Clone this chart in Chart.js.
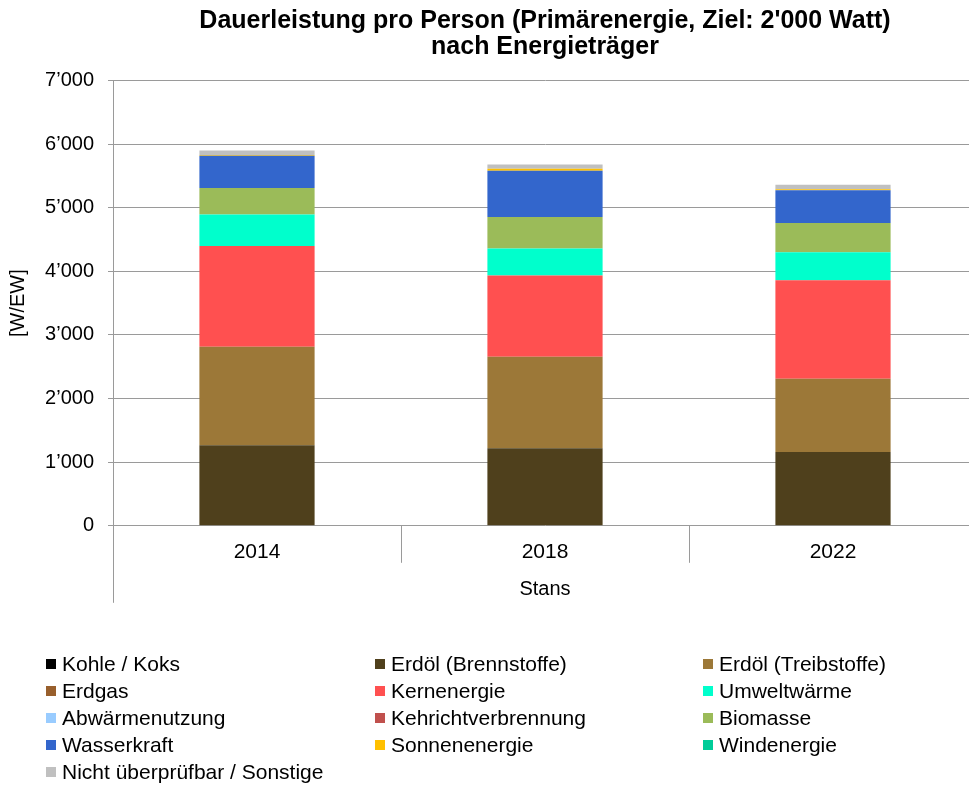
<!DOCTYPE html>
<html>
<head>
<meta charset="utf-8">
<script src="https://cdn.jsdelivr.net/npm/chart.js@4"></script>
<style>
  html, body { margin: 0; padding: 0; background: #fff; overflow: hidden; }
  canvas { display: block; }
</style>
</head>
<body>
<canvas id="energyChart" width="977" height="785"></canvas>
<script>
// Werte [W/EW] pro Jahr
var years = ['2014', '2018', '2022'];
var kohle = [0, 0, 0];
var erdoelBrenn = [1267, 1220, 1161];
var erdoelTreib = [1547, 1437, 1151];
var erdgas = [0, 0, 0];
var kernenergie = [1586, 1278, 1549];
var umweltwaerme = [493, 424, 440];
var abwaerme = [0, 0, 0];
var kehricht = [0, 0, 0];
var biomasse = [417, 496, 460];
var wasserkraft = [508, 728, 513];
var sonnenenergie = [10, 30, 16];
var windenergie = [0, 0, 0];
var sonstige = [70, 68, 73];

var yTicks = [0, 1000, 2000, 3000, 4000, 5000, 6000, 7000];

var fontName = '"Liberation Sans", Arial, sans-serif';
var gridColor = '#9a9a9a';

function ds(label, values, color) {
    return { label: label, data: values, backgroundColor: color, borderWidth: 0 };
}

var datasets = [
    ds('Kohle / Koks', kohle, '#000000'),
    ds('Erdöl (Brennstoffe)', erdoelBrenn, '#4f401c'),
    ds('Erdöl (Treibstoffe)', erdoelTreib, '#9c7838'),
    ds('Erdgas', erdgas, '#985f2c'),
    ds('Kernenergie', kernenergie, '#ff5050'),
    ds('Umweltwärme', umweltwaerme, '#00ffcc'),
    ds('Abwärmenutzung', abwaerme, '#99ccff'),
    ds('Kehrichtverbrennung', kehricht, '#c0504d'),
    ds('Biomasse', biomasse, '#9bbb59'),
    ds('Wasserkraft', wasserkraft, '#3366cc'),
    ds('Sonnenenergie', sonnenenergie, '#ffc000'),
    ds('Windenergie', windenergie, '#00cc99'),
    ds('Nicht überprüfbar / Sonstige', sonstige, '#c0c0c0')
];

// Trennlinien der Kategorieachse + Legende in drei Spalten
var extras = {
    id: 'extras',
    afterDraw: function (chart) {
        var ctx = chart.ctx;
        var area = chart.chartArea;
        var xs = chart.scales.x;
        ctx.save();
        ctx.strokeStyle = gridColor;
        ctx.lineWidth = 1;
        ctx.beginPath();
        ctx.moveTo(Math.round(area.left) + 0.5, area.bottom);
        ctx.lineTo(Math.round(area.left) + 0.5, area.bottom + 77);
        for (var i = 0; i < years.length - 1; i++) {
            var xb = Math.round((xs.getPixelForValue(i) + xs.getPixelForValue(i + 1)) / 2) + 0.5;
            ctx.moveTo(xb, area.bottom);
            ctx.lineTo(xb, area.bottom + 37);
        }
        ctx.stroke();

        var cols = [46, 375, 703];
        ctx.font = '21px ' + fontName;
        ctx.textBaseline = 'middle';
        chart.data.datasets.forEach(function (d, idx) {
            var x = cols[idx % 3];
            var y = 664 + Math.floor(idx / 3) * 27;
            ctx.fillStyle = d.backgroundColor;
            ctx.fillRect(x, y - 5, 10, 10);
            ctx.fillStyle = '#000';
            ctx.fillText(d.label, x + 16, y + 1);
        });
        ctx.restore();
    }
};

var ctx = document.getElementById('energyChart').getContext('2d');
var myChart = new Chart(ctx, {
    type: 'bar',
    data: { labels: years, datasets: datasets },
    options: {
        responsive: false,
        animation: false,
        devicePixelRatio: 1,
        layout: { padding: { left: 0, right: 0, top: 0, bottom: 184 } },
        datasets: { bar: { barPercentage: 0.4, categoryPercentage: 1 } },
        plugins: {
            legend: { display: false },
            tooltip: { enabled: false },
            title: {
                display: true,
                fullSize: false,
                text: ['Dauerleistung pro Person (Primärenergie, Ziel: 2\'000 Watt)', 'nach Energieträger'],
                color: '#000',
                font: { family: fontName, size: 25, weight: 'bold', lineHeight: 1.05 },
                padding: { top: 8, bottom: 20 }
            }
        },
        scales: {
            x: {
                stacked: true,
                grid: { display: false },
                border: { display: false },
                ticks: { color: '#000', font: { family: fontName, size: 21 }, padding: 6 },
                title: {
                    display: true,
                    text: 'Stans',
                    color: '#000',
                    font: { family: fontName, size: 20 },
                    padding: { top: 6, bottom: 0 }
                }
            },
            y: {
                stacked: true,
                min: 0,
                max: 7000,
                afterFit: function (scale) { scale.width = 113; },
                afterBuildTicks: function (scale) {
                    scale.ticks = yTicks.map(function (v) { return { value: v }; });
                },
                grid: { color: gridColor, lineWidth: 1, tickLength: 5 },
                border: { color: gridColor, width: 1 },
                ticks: {
                    color: '#000',
                    font: { family: fontName, size: 20 },
                    padding: 14,
                    callback: function (v) {
                        return String(v).replace(/\B(?=(\d{3})+(?!\d))/g, '\u2019');
                    }
                },
                title: {
                    display: true,
                    text: '[W/EW]',
                    color: '#000',
                    font: { family: fontName, size: 20 },
                    padding: { top: 6, bottom: 0 }
                }
            }
        }
    },
    plugins: [extras]
});
</script>
</body>
</html>
